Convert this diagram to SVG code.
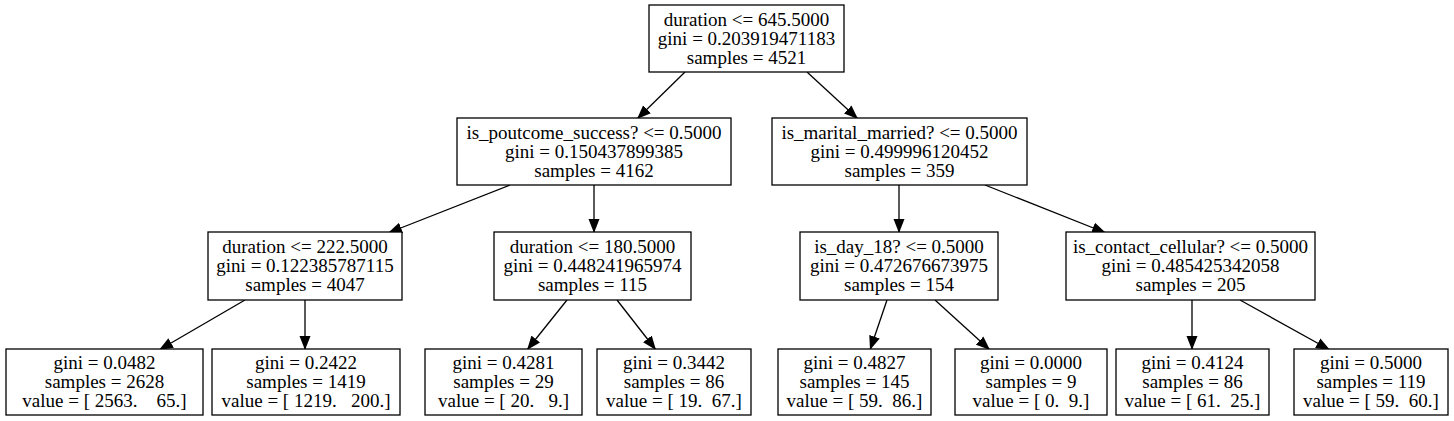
<svg xmlns="http://www.w3.org/2000/svg" width="1454" height="421" viewBox="0 0 1454 421">
<defs>
<style>
.n rect{fill:#fff;stroke:#000;stroke-width:1.3}
.n text{font-family:"Liberation Serif","Times New Roman",serif;font-size:19px;text-anchor:middle;fill:#000;white-space:pre}
.e line{stroke:#000;stroke-width:1.3}
</style>
<marker id="ah" markerWidth="15" markerHeight="12" refX="14" refY="6" orient="auto" markerUnits="userSpaceOnUse">
<path d="M0,0.5 L14,6 L0,11.5 Z" fill="#000"/>
</marker>
</defs>
<rect width="1454" height="421" fill="#fff"/>
<g id="edges" class="e">
<line x1="685" y1="72" x2="637" y2="119" marker-end="url(#ah)"/>
<line x1="807" y1="72" x2="858" y2="119" marker-end="url(#ah)"/>
<line x1="510" y1="185" x2="388" y2="233" marker-end="url(#ah)"/>
<line x1="594" y1="185" x2="594" y2="233" marker-end="url(#ah)"/>
<line x1="899" y1="185" x2="899" y2="233" marker-end="url(#ah)"/>
<line x1="985" y1="185" x2="1106" y2="233" marker-end="url(#ah)"/>
<line x1="245" y1="300" x2="159" y2="350" marker-end="url(#ah)"/>
<line x1="305" y1="300" x2="305" y2="350" marker-end="url(#ah)"/>
<line x1="567" y1="300" x2="527" y2="350" marker-end="url(#ah)"/>
<line x1="617" y1="300" x2="656" y2="350" marker-end="url(#ah)"/>
<line x1="887" y1="300" x2="870" y2="350" marker-end="url(#ah)"/>
<line x1="935" y1="300" x2="990" y2="350" marker-end="url(#ah)"/>
<line x1="1192" y1="300" x2="1192" y2="350" marker-end="url(#ah)"/>
<line x1="1240" y1="300" x2="1330" y2="350" marker-end="url(#ah)"/>
</g>
<g id="n0" class="n"><rect x="649" y="5" width="195" height="67"/>
<text x="746.5" y="25.5">duration &lt;= 645.5000</text><text x="746.5" y="45">gini = 0.203919471183</text><text x="746.5" y="64.3">samples = 4521</text></g>
<g id="n1" class="n"><rect x="457" y="118" width="274" height="67"/>
<text x="594" y="138.5">is_poutcome_success? &lt;= 0.5000</text><text x="594" y="158">gini = 0.150437899385</text><text x="594" y="177.3">samples = 4162</text></g>
<g id="n2" class="n"><rect x="772" y="118" width="255" height="67"/>
<text x="899.5" y="138.5">is_marital_married? &lt;= 0.5000</text><text x="899.5" y="158">gini = 0.499996120452</text><text x="899.5" y="177.3">samples = 359</text></g>
<g id="n3" class="n"><rect x="208" y="232" width="194" height="68"/>
<text x="305" y="252.5">duration &lt;= 222.5000</text><text x="305" y="272">gini = 0.122385787115</text><text x="305" y="291.3">samples = 4047</text></g>
<g id="n4" class="n"><rect x="494" y="232" width="197" height="68"/>
<text x="592.5" y="252.5">duration &lt;= 180.5000</text><text x="592.5" y="272">gini = 0.448241965974</text><text x="592.5" y="291.3">samples = 115</text></g>
<g id="n5" class="n"><rect x="800" y="232" width="198" height="68"/>
<text x="899" y="252.5">is_day_18? &lt;= 0.5000</text><text x="899" y="272">gini = 0.472676673975</text><text x="899" y="291.3">samples = 154</text></g>
<g id="n6" class="n"><rect x="1066" y="232" width="249" height="68"/>
<text x="1190.5" y="252.5">is_contact_cellular? &lt;= 0.5000</text><text x="1190.5" y="272">gini = 0.485425342058</text><text x="1190.5" y="291.3">samples = 205</text></g>
<g id="n7" class="n"><rect x="6" y="349" width="197" height="66"/>
<text x="104.5" y="368.5">gini = 0.0482</text><text x="104.5" y="388">samples = 2628</text><text x="104.5" y="407.3">value = [ 2563.    65.]</text></g>
<g id="n8" class="n"><rect x="212" y="349" width="188" height="66"/>
<text x="306" y="368.5">gini = 0.2422</text><text x="306" y="388">samples = 1419</text><text x="306" y="407.3">value = [ 1219.   200.]</text></g>
<g id="n9" class="n"><rect x="425" y="349" width="157" height="66"/>
<text x="503.5" y="368.5">gini = 0.4281</text><text x="503.5" y="388">samples = 29</text><text x="503.5" y="407.3">value = [ 20.   9.]</text></g>
<g id="n10" class="n"><rect x="597" y="349" width="154" height="66"/>
<text x="674" y="368.5">gini = 0.3442</text><text x="674" y="388">samples = 86</text><text x="674" y="407.3">value = [ 19.  67.]</text></g>
<g id="n11" class="n"><rect x="778" y="349" width="153" height="66"/>
<text x="854.5" y="368.5">gini = 0.4827</text><text x="854.5" y="388">samples = 145</text><text x="854.5" y="407.3">value = [ 59.  86.]</text></g>
<g id="n12" class="n"><rect x="955" y="349" width="152" height="66"/>
<text x="1031" y="368.5">gini = 0.0000</text><text x="1031" y="388">samples = 9</text><text x="1031" y="407.3">value = [ 0.  9.]</text></g>
<g id="n13" class="n"><rect x="1116" y="349" width="153" height="66"/>
<text x="1192.5" y="368.5">gini = 0.4124</text><text x="1192.5" y="388">samples = 86</text><text x="1192.5" y="407.3">value = [ 61.  25.]</text></g>
<g id="n14" class="n"><rect x="1294" y="349" width="154" height="66"/>
<text x="1371" y="368.5">gini = 0.5000</text><text x="1371" y="388">samples = 119</text><text x="1371" y="407.3">value = [ 59.  60.]</text></g>
</svg>
